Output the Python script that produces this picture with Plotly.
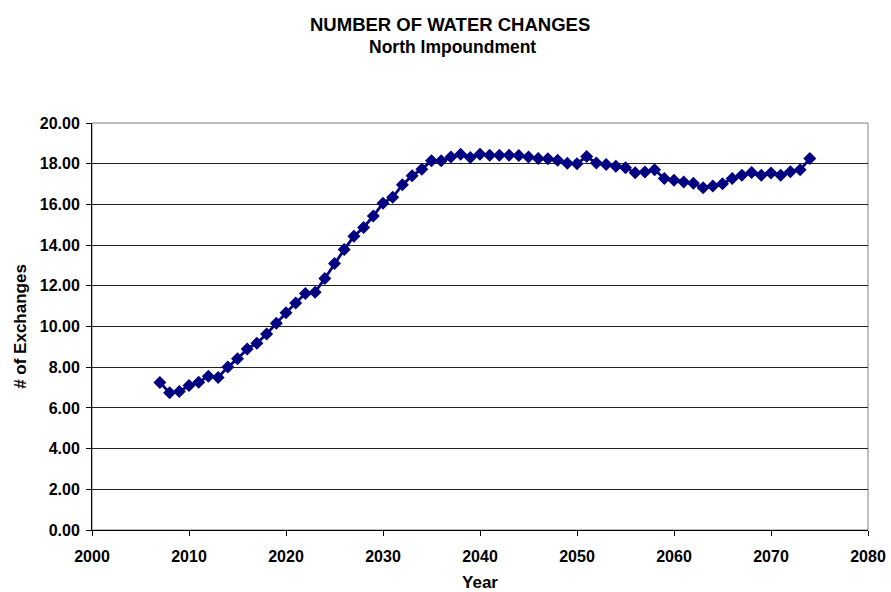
import plotly.graph_objects as go

years = list(range(2007, 2075))
exchanges = [
    7.25, 6.74, 6.80, 7.10, 7.26, 7.56, 7.50, 8.01, 8.41, 8.90,
    9.18, 9.63, 10.16, 10.67, 11.16, 11.62, 11.68, 12.36, 13.10, 13.78,
    14.44, 14.87, 15.43, 16.06, 16.35, 16.96, 17.41, 17.73, 18.15, 18.14,
    18.33, 18.47, 18.31, 18.47, 18.42, 18.41, 18.41, 18.40, 18.33, 18.25,
    18.24, 18.17, 18.02, 18.00, 18.35, 18.03, 17.96, 17.87, 17.80, 17.56,
    17.59, 17.70, 17.27, 17.19, 17.10, 17.04, 16.82, 16.90, 17.02, 17.27,
    17.43, 17.57, 17.43, 17.54, 17.43, 17.60, 17.70, 18.25,
]
x_ticks = [2000, 2010, 2020, 2030, 2040, 2050, 2060, 2070, 2080]
y_ticks = [0, 2, 4, 6, 8, 10, 12, 14, 16, 18, 20]

FONT = "Liberation Sans, Arial, sans-serif"
NAVY = "#000080"

fig = go.Figure()
fig.add_trace(go.Scatter(
    x=years, y=exchanges, mode="lines+markers",
    line=dict(color=NAVY, width=2.8),
    marker=dict(symbol="diamond", size=10, color=NAVY),
    showlegend=False,
))

fig.update_layout(
    width=891, height=592,
    margin=dict(l=92, r=23, t=123, b=62),
    paper_bgcolor="white", plot_bgcolor="white",
    font=dict(family=FONT, color="black"),
    annotations=[
        dict(text="<b>NUMBER OF WATER CHANGES</b>", xref="paper", yref="paper",
             x=0.461, y=1.0, yshift=99, xanchor="center", yanchor="middle",
             showarrow=False, font=dict(size=18.5, family=FONT)),
        dict(text="<b>North Impoundment</b>", xref="paper", yref="paper",
             x=0.465, y=1.0, yshift=76, xanchor="center", yanchor="middle",
             showarrow=False, font=dict(size=17.5, family=FONT)),
    ],
    shapes=[dict(type="rect", xref="paper", yref="paper", x0=0, y0=0, x1=1, y1=1,
                 line=dict(color="#808080", width=1), layer="below")],
)

fig.update_xaxes(
    range=[2000, 2080], tickvals=x_ticks, ticktext=[str(v) for v in x_ticks],
    automargin=False,
    showgrid=False, zeroline=False,
    showline=True, linecolor="black", linewidth=1,
    ticks="outside", ticklen=5, tickcolor="black",
    ticklabelstandoff=7,
    tickfont=dict(size=16, family=FONT, weight="bold"),
    title=dict(text="<b>Year</b>", font=dict(size=17, family=FONT), standoff=11),
)
fig.update_yaxes(
    range=[0, 20], tickvals=y_ticks, tickformat=".2f",
    automargin=False,
    showgrid=True, gridcolor="#222222", gridwidth=1, zeroline=False,
    showline=True, linecolor="black", linewidth=1,
    ticks="outside", ticklen=5, tickcolor="black",
    ticklabelstandoff=3,
    tickfont=dict(size=16, family=FONT, weight="bold"),
    title=dict(text="<b># of Exchanges</b>", font=dict(size=17, family=FONT), standoff=8),
)

fig.write_html(
    "out.html",
    config={"displayModeBar": False},
    post_script="document.body.style.margin='0px';document.body.style.overflow='hidden';",
)
